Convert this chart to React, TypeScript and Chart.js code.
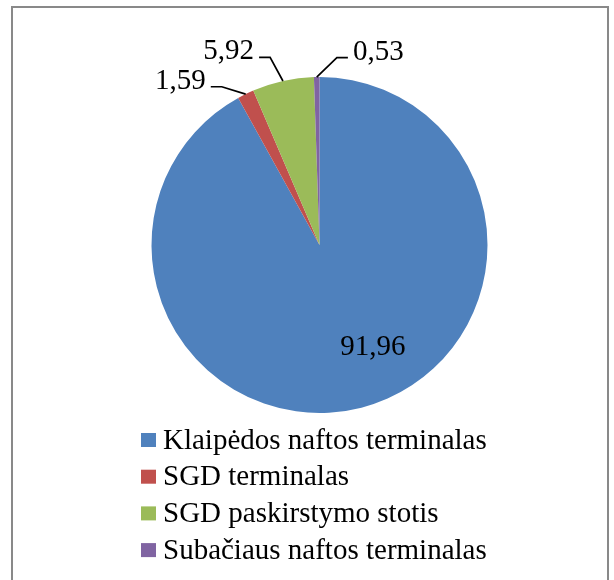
import React, { useEffect, useRef } from "react";
import { Chart, registerables } from "chart.js";

Chart.register(...registerables);

// ---- data ----
const categories = [
  "Klaipėdos naftos terminalas",
  "SGD terminalas",
  "SGD paskirstymo stotis",
  "Subačiaus naftos terminalas",
];
const shares = [91.96, 1.59, 5.92, 0.53];
const sliceColors = ["#4F81BD", "#C0504D", "#9BBB59", "#8064A2"];

// ---- label placement (layout only) ----
// inside: angle shift from slice middle (deg) and radius fraction
// outside: elbow angle from top (deg, clockwise) and elbow distance as fraction of radius
const labelPlacement = [
  { mode: "inside", shift: -13.2, frac: 0.685 },
  { mode: "outside", angle: -31.7, frac: 1.107 },
  { mode: "outside", angle: -14.75, frac: 1.155 },
  { mode: "outside", angle: 5.3, frac: 1.12 },
];

const FONT = '"Liberation Serif", "Times New Roman", serif';

const fmt = (v: number) => v.toFixed(2).replace(".", ",");

const labelPlugin = {
  id: "sliceLabels",
  afterDraw(chart: any) {
    const ctx: CanvasRenderingContext2D = chart.ctx;
    const meta = chart.getDatasetMeta(0);
    const ds = chart.data.datasets[0];
    ctx.save();
    ctx.fillStyle = "#000";
    ctx.strokeStyle = "#000";
    ctx.lineWidth = 1.7;
    ctx.font = `29px ${FONT}`;
    meta.data.forEach((arc: any, i: number) => {
      const p = labelPlacement[i];
      const text = fmt(ds.data[i]);
      const mid = (arc.startAngle + arc.endAngle) / 2;
      const R = arc.outerRadius;
      if (p.mode === "inside") {
        const a = mid + (p.shift * Math.PI) / 180;
        const r = R * p.frac;
        ctx.textAlign = "center";
        ctx.textBaseline = "middle";
        ctx.fillText(text, arc.x + Math.cos(a) * r, arc.y + Math.sin(a) * r);
      } else {
        const sx = arc.x + Math.cos(mid) * R;
        const sy = arc.y + Math.sin(mid) * R;
        const ea = ((p.angle - 90) * Math.PI) / 180;
        const ex = arc.x + Math.cos(ea) * R * p.frac;
        const ey = arc.y + Math.sin(ea) * R * p.frac;
        const dir = p.angle >= 0 ? 1 : -1;
        const hx = ex + dir * 11;
        ctx.beginPath();
        ctx.moveTo(sx, sy);
        ctx.lineTo(ex, ey);
        ctx.lineTo(hx, ey);
        ctx.stroke();
        ctx.textAlign = dir > 0 ? "left" : "right";
        ctx.textBaseline = "alphabetic";
        ctx.fillText(text, hx + dir * 5, ey + 2);
      }
    });

    // legend (one item per row, below the pie)
    const area = chart.chartArea;
    const x0 = area.left - 10.5;
    const y0 = area.bottom + 27;
    const step = 36.7;
    ctx.font = `29px ${FONT}`;
    ctx.textAlign = "left";
    ctx.textBaseline = "middle";
    chart.data.labels.forEach((lab: string, i: number) => {
      const y = y0 + i * step;
      ctx.fillStyle = ds.backgroundColor[i];
      ctx.fillRect(x0, y - 7, 15, 14);
      ctx.fillStyle = "#000";
      ctx.fillText(lab, x0 + 22, y + 1);
    });
    ctx.restore();
  },
};

export default function App() {
  const ref = useRef<HTMLCanvasElement>(null);
  useEffect(() => {
    if (!ref.current) return;
    const chart = new Chart(ref.current, {
      type: "pie",
      data: {
        labels: categories,
        datasets: [
          {
            data: shares,
            backgroundColor: sliceColors,
            borderWidth: 0,
          },
        ],
      },
      options: {
        responsive: false,
        animation: false,
        devicePixelRatio: 1,
        layout: { padding: { left: 151.5, right: 126.5, top: 77, bottom: 167 } },
        plugins: {
          legend: { display: false },
          tooltip: { enabled: false },
        },
      },
      plugins: [labelPlugin],
    });
    return () => chart.destroy();
  }, []);

  return (
    <div
      style={{
        position: "fixed",
        left: 0,
        top: 0,
        width: 614,
        height: 580,
        overflow: "hidden",
        background: "#fff",
      }}
    >
      <div
        style={{
          position: "absolute",
          left: 11,
          top: 6,
          width: 594,
          height: 600,
          border: "2px solid #898989",
        }}
      />
      <canvas
        ref={ref}
        width={614}
        height={580}
        style={{ position: "absolute", left: 0, top: 0, width: 614, height: 580 }}
      />
    </div>
  );
}
